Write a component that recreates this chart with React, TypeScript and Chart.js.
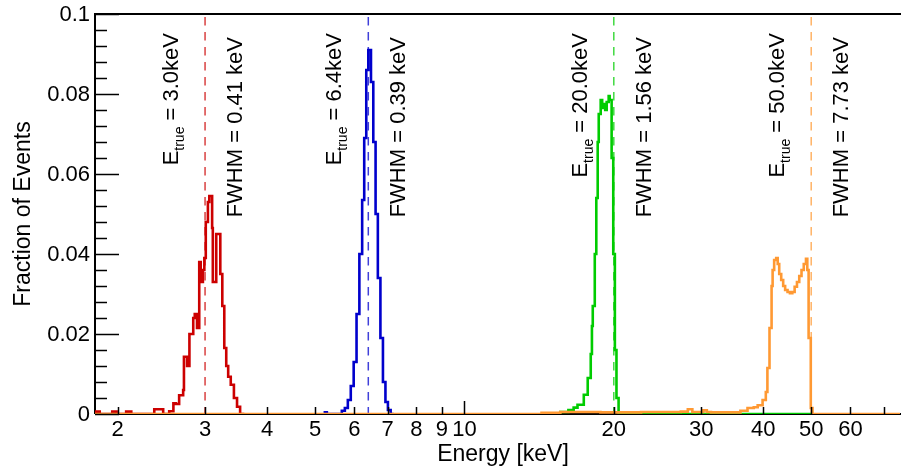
import React, { useEffect, useRef } from "react";
import { Chart, registerables } from "chart.js";

Chart.register(...registerables);

// Axis ranges
const X_MIN = 1.8;
const X_MAX = 75.5;
const Y_MIN = 0;
const Y_MAX = 0.1;

// Axis ticks and labels
const yTickValues = [0, 0.02, 0.04, 0.06, 0.08, 0.1];
const yTickLabels = ["0", "0.02", "0.04", "0.06", "0.08", "0.1"];
const yMinorStep = 0.004;
const xTickValues = [2, 3, 4, 5, 6, 7, 8, 9, 10, 20, 30, 40, 50, 60, 70];
const xTickLabels = ["2", "3", "4", "5", "6", "7", "8", "9", "10", "20", "30", "40", "50", "60", ""];
const xMajorTicks = [10];

// Peak annotations
const peakEnergies = [3.0, 6.4, 20.0, 50.0];
const fwhmValues = [0.41, 0.39, 1.56, 7.73];
const peakColors = ["#cc0000", "#0000cc", "#00cc00", "#ff9933"];

// Histogram contents: lower bin edge [keV] and fraction of events
const redEnergy = [1.80, 1.84, 1.95, 1.99, 2.08, 2.13, 2.37, 2.47, 2.54, 2.59, 2.62, 2.66, 2.71, 2.72, 2.76, 2.79, 2.84, 2.86, 2.89, 2.92, 2.94, 2.97, 2.99, 3.01, 3.04, 3.06, 3.10, 3.11, 3.16, 3.22, 3.25, 3.28, 3.31, 3.34, 3.38, 3.43, 3.48, 3.53, 3.60];
const redFraction = [0.0006, 0, 0.0006, 0, 0.0006, 0, 0.0012, 0, 0.0007, 0.0027, 0.0025, 0.0047, 0.006, 0.0143, 0.012, 0.020, 0.024, 0.025, 0.0215, 0.038, 0.033, 0.036, 0.039, 0.048, 0.053, 0.0545, 0.0465, 0.033, 0.045, 0.035, 0.027, 0.0165, 0.012, 0.0093, 0.0073, 0.004, 0.0018, 0, 0];

const blueEnergy = [5.20, 5.28, 5.66, 5.74, 5.82, 5.90, 5.98, 6.06, 6.14, 6.22, 6.28, 6.34, 6.40, 6.48, 6.55, 6.62, 6.69, 6.77, 6.85, 6.93, 7.01, 7.10, 7.20];
const blueFraction = [0.0004, 0, 0.0008, 0.0015, 0.0035, 0.007, 0.013, 0.025, 0.040, 0.0535, 0.069, 0.086, 0.091, 0.083, 0.068, 0.050, 0.034, 0.019, 0.008, 0.003, 0.001, 0, 0];

const greenEnergy = [14.8, 15.6, 16.2, 16.6, 16.9, 17.4, 17.72, 17.97, 18.07, 18.14, 18.31, 18.44, 18.56, 18.65, 18.82, 18.95, 19.08, 19.22, 19.35, 19.53, 19.62, 19.80, 19.95, 20.10, 20.25, 20.45, 50.3];
const greenFraction = [0.0002, 0.0005, 0.001, 0.0016, 0.0023, 0.0048, 0.009, 0.015, 0.022, 0.027, 0.040, 0.054, 0.068, 0.075, 0.0785, 0.0765, 0.0775, 0.076, 0.078, 0.0795, 0.0785, 0.064, 0.040, 0.016, 0.004, 0, 0];

const orangeEnergy = [1.80, 14.3, 15.6, 18.8, 22.7, 27.3, 28.2, 28.8, 30.3, 30.8, 31.4, 36.0, 37.2, 38.3, 39.0, 39.9, 40.5, 40.8, 41.2, 41.6, 41.8, 42.1, 42.5, 42.8, 43.1, 43.5, 43.9, 44.3, 44.8, 45.3, 45.8, 46.3, 46.8, 47.3, 47.8, 48.3, 48.8, 49.1, 49.4, 49.9, 50.3, 75.5];
const orangeFraction = [0, 0.0003, 0.0005, 0.0004, 0.0005, 0.0006, 0.0012, 0.0005, 0.0009, 0.0005, 0.0004, 0.0008, 0.0015, 0.0017, 0.0022, 0.0035, 0.0055, 0.0115, 0.0215, 0.032, 0.036, 0.0385, 0.039, 0.0375, 0.035, 0.0335, 0.032, 0.031, 0.0305, 0.0302, 0.0305, 0.0318, 0.033, 0.0345, 0.036, 0.0375, 0.0388, 0.036, 0.019, 0.0015, 0, 0];

const FONT = '"Liberation Sans", Arial, Helvetica, sans-serif';

const toPoints = (xs: number[], ys: number[]) => xs.map((x, i) => ({ x, y: ys[i] }));

const histogram = (xs: number[], ys: number[], color: string, order: number) => ({
  data: toPoints(xs, ys),
  borderColor: color,
  borderWidth: 2.6,
  pointRadius: 0,
  fill: false,
  stepped: "before" as const,
  order,
});

const frameAndTrueLines = {
  id: "frameAndTrueLines",
  beforeDatasetsDraw(chart: any) {
    const { ctx, chartArea, scales } = chart;
    const { left, top, right, bottom } = chartArea;
    ctx.save();
    // dashed markers at the true energies
    ctx.lineWidth = 1.5;
    ctx.setLineDash([8.5, 6.5]);
    ctx.globalAlpha = 0.75;
    peakEnergies.forEach((e, i) => {
      const px = scales.x.getPixelForValue(e);
      ctx.strokeStyle = peakColors[i];
      ctx.beginPath();
      ctx.moveTo(px, top + 3);
      ctx.lineTo(px, bottom);
      ctx.stroke();
    });
    ctx.restore();

    // frame
    ctx.save();
    ctx.strokeStyle = "#000";
    ctx.lineWidth = 2;
    ctx.beginPath();
    ctx.moveTo(left, bottom);
    ctx.lineTo(left, top);
    ctx.lineTo(right + 2, top);
    ctx.moveTo(left, bottom);
    ctx.lineTo(right + 2, bottom);
    ctx.stroke();
    ctx.restore();
  },
  afterDatasetsDraw(chart: any) {
    const { ctx, chartArea, scales } = chart;
    const { left, top, bottom } = chartArea;
    const xs = scales.x;
    const ys = scales.y;
    ctx.save();
    ctx.strokeStyle = "#000";
    ctx.lineWidth = 1.5;

    // y ticks (inside the frame)
    const nMinor = Math.round((Y_MAX - Y_MIN) / yMinorStep);
    ctx.beginPath();
    for (let k = 0; k <= nMinor; k++) {
      const v = Y_MIN + k * yMinorStep;
      const py = Math.round(ys.getPixelForValue(v)) + 0.5;
      const isMajor = yTickValues.some((t) => Math.abs(t - v) < 1e-9);
      ctx.moveTo(left, py);
      ctx.lineTo(left + (isMajor ? 24 : 12), py);
    }
    // x ticks
    xTickValues.forEach((v) => {
      const px = Math.round(xs.getPixelForValue(v)) + 0.5;
      const len = xMajorTicks.includes(v) ? 13 : 7;
      ctx.moveTo(px, bottom);
      ctx.lineTo(px, bottom - len);
    });
    ctx.stroke();

    // tick labels
    ctx.fillStyle = "#000";
    ctx.font = `22px ${FONT}`;
    ctx.textAlign = "right";
    ctx.textBaseline = "middle";
    yTickValues.forEach((v, i) => {
      ctx.fillText(yTickLabels[i], left - 5, ys.getPixelForValue(v) + 1);
    });
    ctx.textAlign = "center";
    ctx.textBaseline = "top";
    xTickValues.forEach((v, i) => {
      if (xTickLabels[i]) ctx.fillText(xTickLabels[i], xs.getPixelForValue(v), bottom + 5);
    });

    // axis titles
    ctx.font = `23px ${FONT}`;
    ctx.textBaseline = "alphabetic";
    ctx.fillText("Energy [keV]", 503, 461);
    ctx.save();
    ctx.translate(30, (top + bottom) / 2);
    ctx.rotate(-Math.PI / 2);
    ctx.fillText("Fraction of Events", 0, 0);
    ctx.restore();

    // vertical peak labels
    const mainFont = `22px ${FONT}`;
    const subFont = `14px ${FONT}`;
    peakEnergies.forEach((e, i) => {
      const px = xs.getPixelForValue(e);
      const rest = ` = ${e.toFixed(1)}keV`;
      ctx.font = mainFont;
      const wE = ctx.measureText("E").width;
      const wRest = ctx.measureText(rest).width;
      ctx.font = subFont;
      const wSub = ctx.measureText("true").width;
      const total = wE + wSub + wRest;

      ctx.save();
      ctx.translate(px - 27, top + 19);
      ctx.rotate(-Math.PI / 2);
      ctx.textAlign = "left";
      ctx.textBaseline = "alphabetic";
      const x0 = -total;
      ctx.font = mainFont;
      ctx.fillText("E", x0, 0);
      ctx.font = subFont;
      ctx.fillText("true", x0 + wE, 6);
      ctx.font = mainFont;
      ctx.fillText(rest, x0 + wE + wSub, 0);
      ctx.restore();

      ctx.save();
      ctx.translate(px + 37, top + 23);
      ctx.rotate(-Math.PI / 2);
      ctx.textAlign = "right";
      ctx.textBaseline = "alphabetic";
      ctx.font = mainFont;
      ctx.fillText(`FWHM = ${fwhmValues[i].toFixed(2)} keV`, 0, 0);
      ctx.restore();
    });
    ctx.restore();
  },
};

export default function App() {
  const canvasRef = useRef<HTMLCanvasElement | null>(null);

  useEffect(() => {
    const canvas = canvasRef.current;
    if (!canvas) return;
    const chart = new Chart(canvas, {
      type: "line",
      data: {
        datasets: [
          histogram(orangeEnergy, orangeFraction, peakColors[3], 0),
          histogram(greenEnergy, greenFraction, peakColors[2], 1),
          histogram(blueEnergy, blueFraction, peakColors[1], 2),
          histogram(redEnergy, redFraction, peakColors[0], 3),
        ] as any,
      },
      options: {
        responsive: false,
        animation: false,
        events: [],
        layout: { padding: { left: 95, right: 1, top: 14, bottom: 54 } },
        plugins: { legend: { display: false }, tooltip: { enabled: false } },
        scales: {
          x: { type: "logarithmic", min: X_MIN, max: X_MAX, display: false },
          y: { type: "linear", min: Y_MIN, max: Y_MAX, display: false },
        },
      },
      plugins: [frameAndTrueLines],
    });
    return () => chart.destroy();
  }, []);

  return (
    <div style={{ position: "absolute", left: 0, top: 0, width: 901, height: 468, background: "#fff" }}>
      <canvas ref={canvasRef} width={901} height={468} style={{ display: "block" }} />
    </div>
  );
}
